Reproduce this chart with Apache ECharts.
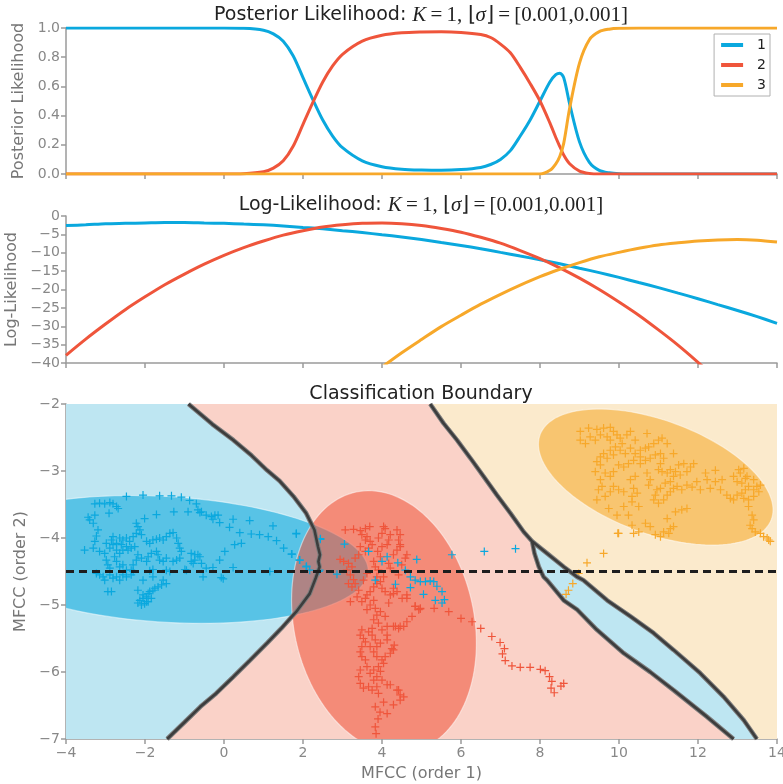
<!DOCTYPE html>
<html><head><meta charset="utf-8">
<script src="https://cdn.jsdelivr.net/npm/echarts@6/dist/echarts.min.js"></script>
<style>html,body{margin:0;padding:0;background:#fff}#c{width:783px;height:784px}</style>
</head><body><div id="c"></div>
<script>
// ---------- shared x range ----------
const xRange = [-4, 14];
const seriesNames = ['1', '2', '3'];

// ---------- top panel: posterior likelihood ----------
const postX = [-4,-2,0,0.5,1,1.25,1.5,1.75,2,2.25,2.5,2.75,3,3.5,4,4.5,5,5.5,6,6.5,6.75,7,7.25,7.5,7.75,8,8.25,8.4,8.5,8.6,8.75,9,9.25,9.5,9.75,10,10.5,12,14];
const post1 = [1,1,1,0.998,0.985,0.96,0.91,0.81,0.66,0.51,0.37,0.26,0.18,0.09,0.05,0.033,0.027,0.025,0.03,0.045,0.065,0.1,0.16,0.26,0.37,0.5,0.63,0.68,0.69,0.66,0.48,0.22,0.08,0.025,0.008,0.002,0,0,0];
const post2 = [0,0,0,0.002,0.015,0.04,0.09,0.19,0.34,0.49,0.63,0.74,0.82,0.91,0.95,0.967,0.973,0.975,0.97,0.955,0.935,0.89,0.83,0.73,0.62,0.5,0.35,0.25,0.19,0.13,0.07,0.02,0.004,0,0,0,0,0,0];
const post3 = [0,0,0,0,0,0,0,0,0,0,0,0,0,0,0,0,0,0,0,0,0,0,0,0,0,0,0.025,0.07,0.12,0.21,0.45,0.76,0.92,0.975,0.992,0.998,1,1,1];

// ---------- middle panel: log-likelihood ----------
const llX = [-4,-3.5,-3,-2.5,-2,-1.5,-1,-0.5,0,0.5,1,1.5,2,2.5,3,3.5,4,4.5,5,5.5,6,6.5,7,7.5,8,8.5,9,9.5,10,10.5,11,11.5,12,12.5,13,13.5,14];
const ll1 = [-2.6,-2.4,-2.1,-2.0,-1.9,-1.8,-1.8,-1.9,-2.0,-2.2,-2.4,-2.7,-3.1,-3.5,-4.0,-4.5,-5.1,-5.7,-6.4,-7.2,-8.0,-8.9,-9.9,-10.9,-11.9,-13.0,-14.2,-15.4,-16.7,-18.1,-19.5,-21.0,-22.5,-24.1,-25.7,-27.4,-29.2];
const ll2 = [-37.9,-33.5,-29.4,-25.5,-22.0,-18.7,-15.8,-13.1,-10.7,-8.6,-6.8,-5.2,-4.0,-3.0,-2.4,-2.0,-1.9,-2.1,-2.6,-3.4,-4.4,-5.8,-7.4,-9.4,-11.6,-14.1,-16.9,-20.0,-23.4,-27.0,-31.0,-35.2,-39.8,-44.6,null,null,null];
const ll3 = [null,null,null,null,null,null,null,null,null,null,null,null,null,null,null,null,-41.1,-37.2,-33.6,-30.1,-27.0,-24.0,-21.3,-18.8,-16.5,-14.5,-12.7,-11.1,-9.9,-8.8,-7.9,-7.3,-6.8,-6.5,-6.4,-6.6,-7.1];

// ---------- bottom panel: classification boundary ----------
const yRangeCls = [-7, -2];
const boundary1 = [[-0.9,-2],[-0.3,-2.3],[0.24,-2.54],[0.7,-2.77],[1.09,-2.99],[1.41,-3.15],[1.76,-3.38],[2.08,-3.63],[2.29,-3.88],[2.38,-4.13],[2.43,-4.25],[2.39,-4.35],[2.42,-4.43],[2.32,-4.6],[2.17,-4.83],[1.83,-5.1],[1.45,-5.35],[1.09,-5.57],[0.65,-5.83],[0.24,-6.07],[-0.2,-6.32],[-0.6,-6.52],[-1.0,-6.75],[-1.44,-7]];
const boundary2 = [[5.22,-2],[5.56,-2.29],[5.9,-2.54],[6.24,-2.81],[6.57,-3.08],[6.91,-3.36],[7.25,-3.63],[7.59,-3.91],[7.8,-4.05]];
const stripLeft = [[7.8,-4.05],[7.86,-4.23],[7.97,-4.43],[8.09,-4.58],[8.18,-4.63],[8.6,-4.93],[8.94,-5.07],[9.44,-5.37],[10.12,-5.72],[10.79,-6.0],[11.38,-6.27],[12.23,-6.67],[12.9,-7.0]];
const stripRight = [[7.8,-4.05],[8.18,-4.23],[8.6,-4.43],[8.94,-4.58],[9.1,-4.63],[9.7,-4.93],[10.29,-5.17],[10.88,-5.42],[11.38,-5.67],[12.06,-6.02],[12.65,-6.37],[13.16,-6.72],[13.49,-7.0]];
// ellipses: centre and two conjugate semi-axis vectors (data units)
const ellipse1 = {c: [-1.45, -4.32], u: [5.1, -0.165], v: [0, 0.94]};
const ellipse2 = {c: [4.05, -5.25], u: [2.34, -0.32], v: [0, 1.93]};
const ellipse3 = {c: [10.93, -3.09], u: [2.97, -0.49], v: [0, 0.889]};
const dashY = -4.5;

const pts1 = [[-2.47,-3.38],[-2.05,-3.36],[-1.63,-3.37],[-1.33,-3.37],[-1.08,-3.39],[-0.87,-3.44],[-0.70,-3.49],[-3.27,-3.49],[-3.15,-3.48],[-3.02,-3.49],[-2.89,-3.47],[-2.81,-3.49],[-2.72,-3.53],[-2.68,-3.56],[-2.91,-3.63],[-3.44,-3.69],[-3.40,-3.73],[-3.27,-3.66],[-1.71,-3.65],[-1.27,-3.61],[-0.91,-3.61],[-0.66,-3.58],[-0.61,-3.62],[-0.57,-3.61],[-0.45,-3.66],[-0.32,-3.68],[-0.23,-3.66],[-0.15,-3.66],[-0.11,-3.77],[-0.28,-3.72],[0.23,-3.72],[0.65,-3.74],[1.24,-3.82],[0.14,-3.84],[0.40,-3.92],[0.69,-3.94],[0.90,-3.95],[1.12,-3.98],[1.33,-4.04],[1.51,-4.15],[1.83,-3.93],[1.71,-4.24],[1.92,-4.33],[2.09,-4.42],[2.17,-4.48],[2.42,-4.48],[2.44,-4.01],
[-3.31,-3.78],[-3.19,-3.88],[-3.23,-3.97],[-3.27,-4.05],[-3.53,-4.18],[-3.31,-4.15],[-3.15,-4.20],[-3.02,-4.23],[-2.98,-4.33],[-2.94,-4.40],[-2.89,-4.45],[-2.81,-3.98],[-2.85,-4.03],[-2.72,-4.08],[-2.64,-4.00],[-2.56,-4.03],[-2.47,-4.00],[-2.39,-4.05],[-2.30,-3.98],[-2.22,-3.93],[-2.18,-3.83],[-2.22,-3.78],[-2.13,-3.88],[-2.09,-3.95],[-2.01,-3.71],[-1.96,-4.05],[-1.88,-4.08],[-1.80,-4.03],[-1.71,-4.02],[-1.63,-4.00],[-1.54,-4.03],[-1.46,-3.98],[-1.37,-3.93],[-1.29,-3.92],[-1.20,-4.00],[-1.16,-4.08],[-1.12,-4.15],[-1.08,-4.20],[-1.12,-4.30],[-1.20,-4.33],[-1.29,-4.35],[-1.46,-4.30],[-1.54,-4.35],[-1.63,-4.33],[-1.67,-4.25],[-1.71,-4.20],[-1.84,-4.23],[-1.92,-4.28],[-1.96,-4.35],[-2.09,-4.30],[-2.18,-4.25],[-2.22,-4.33],[-2.30,-4.40],[-2.35,-4.48],[-2.47,-4.48],[-2.56,-4.40],[-2.64,-4.43],[-2.72,-4.35],[-2.77,-4.28],[-2.64,-4.23],[-2.56,-4.18],[-2.47,-4.13],[-2.43,-4.18],[-2.35,-4.15],[-2.26,-4.13],[-2.72,-4.18],[-2.89,-4.15],[-2.81,-4.10],[-2.60,-4.10],[-2.98,-4.08],
[-0.83,-4.23],[-0.74,-4.25],[-0.66,-4.25],[-0.61,-4.28],[-0.74,-4.33],[-0.78,-4.38],[-0.83,-4.35],[-0.57,-4.38],[-0.45,-4.45],[-0.28,-4.44],[-0.11,-4.33],[0.02,-4.20],[0.27,-4.10],[0.44,-4.08],[0.23,-4.44],[-0.53,-4.58],[-0.02,-4.61],[-0.07,-4.59],[-0.99,-4.47],[-0.95,-4.48],[-1.88,-4.49],[-1.80,-4.47],[-1.46,-4.48],[-1.37,-4.50],
[-3.23,-4.53],[-3.15,-4.55],[-3.06,-4.58],[-3.02,-4.63],[-2.89,-4.55],[-2.81,-4.60],[-2.72,-4.58],[-2.64,-4.63],[-2.56,-4.55],[-2.47,-4.58],[-2.35,-4.55],[-2.30,-4.50],[-2.05,-4.63],[-1.80,-4.58],[-1.54,-4.63],[-1.46,-4.68],[-1.58,-4.70],[-1.67,-4.73],[-1.75,-4.75],[-1.80,-4.78],[-1.88,-4.80],[-1.92,-4.83],[-1.96,-4.88],[-2.05,-4.90],[-2.13,-4.93],[-2.18,-4.97],[-2.09,-5.00],[-2.01,-4.98],[-1.92,-4.95],[-1.84,-4.90],[-1.96,-4.95],[-2.05,-4.85],[-2.18,-4.78],[-2.94,-4.80],[-2.85,-4.80],[1.16,-4.50],
[1.83,-3.94],[2.44,-4.02],[3.05,-4.09],[1.72,-4.24],[1.91,-4.33],[2.08,-4.43],[2.40,-4.50],[2.86,-4.54],[3.66,-4.20],[4.00,-4.35],[4.13,-4.28],[4.40,-4.37],[4.88,-4.32],[4.59,-4.48],[4.72,-4.58],[4.84,-4.63],[4.97,-4.65],[5.10,-4.65],[5.22,-4.64],[5.31,-4.65],[5.39,-4.72],[5.52,-4.80],[4.72,-4.74],[4.34,-4.69],[5.05,-4.84],[5.35,-4.93],[5.52,-4.97],[5.58,-4.92],[5.77,-4.25],[6.59,-4.20],[3.83,-4.63],[7.38,-4.16]];

const pts2 = [[3.07,-3.88],[3.28,-3.87],[3.45,-3.89],[3.58,-3.86],[3.69,-3.83],[3.49,-3.95],[3.62,-3.98],[3.70,-4.05],[3.75,-4.10],[3.66,-4.15],[3.58,-4.20],[3.41,-4.25],[3.32,-4.30],[2.94,-4.32],[3.03,-4.35],[3.15,-4.38],[3.24,-4.43],[3.11,-4.48],[3.20,-4.55],[3.28,-4.62],[3.32,-4.68],[3.15,-4.68],[3.24,-4.73],[3.41,-4.78],[3.37,-4.88],[3.20,-4.95],[3.49,-4.95],[3.58,-4.90],[3.62,-4.85],[3.70,-4.80],[3.79,-4.73],[3.87,-4.68],[3.96,-4.65],[4.04,-4.58],[3.91,-4.48],[3.83,-4.43],[3.79,-4.35],[3.96,-4.28],[3.89,-4.20],[4.00,-4.13],[4.13,-4.10],[4.17,-4.03],[4.21,-3.95],[4.08,-3.86],[4.00,-3.93],[3.91,-4.00],[4.04,-3.83],[4.38,-3.88],[4.46,-3.95],[4.42,-4.03],[4.46,-4.10],[4.38,-4.18],[4.29,-4.25],[4.17,-4.38],[4.21,-4.45],[4.42,-4.55],[4.50,-4.40],[4.59,-4.30],[4.63,-4.25],[4.46,-4.13],
[3.70,-5.00],[3.62,-5.07],[3.83,-5.05],[3.96,-5.10],[4.08,-5.17],[3.87,-5.15],[3.79,-5.22],[3.91,-5.27],[3.75,-5.35],[3.66,-5.40],[3.49,-5.37],[3.45,-5.45],[3.53,-5.50],[3.58,-5.55],[3.49,-5.62],[3.45,-5.70],[3.49,-5.77],[3.58,-5.82],[3.62,-5.92],[3.45,-5.97],[3.41,-6.07],[3.45,-6.17],[3.53,-6.24],[3.66,-6.22],[3.75,-6.27],[3.79,-6.12],[3.87,-6.07],[3.70,-6.02],[3.79,-5.97],[3.91,-5.92],[4.00,-5.82],[3.87,-5.77],[3.79,-5.70],[3.87,-5.62],[3.96,-5.57],[3.83,-5.52],[3.70,-5.62],[3.75,-5.45],[4.00,-5.37],[4.13,-5.32],[4.29,-5.32],[4.42,-5.35],[4.55,-5.32],[4.63,-5.25],[4.76,-5.17],[4.93,-5.07],[4.84,-5.02],[4.63,-4.90],[4.21,-4.85],[4.08,-4.80],[4.00,-4.75],[4.17,-4.97],[4.13,-5.45],[4.25,-5.65],[4.21,-5.72],[4.08,-5.77],[4.04,-5.87],[3.96,-5.99],[4.00,-6.12],[3.87,-6.22],[3.91,-6.32],[4.13,-6.19],[4.21,-6.19],[4.38,-6.27],[4.46,-6.34],[4.55,-6.37],[4.97,-5.05],[5.32,-5.05],[5.69,-5.10],[6.00,-5.20],[6.28,-5.25],[6.50,-5.35],[4.13,-5.52],[4.31,-5.60],[3.62,-4.53],[3.53,-4.63],[3.79,-4.93],[4.29,-4.75],[4.38,-4.80],[3.45,-4.13],[3.58,-4.03],[3.87,-4.58],
[4.29,-4.83],[4.51,-4.90],[4.63,-4.85],[4.84,-5.02],[4.97,-5.06],[6.78,-5.47],[6.99,-5.56],[7.10,-5.65],[7.05,-5.73],[7.12,-5.83],[7.29,-5.91],[7.50,-5.93],[7.75,-5.93],[8.01,-5.96],[8.13,-5.98],[8.24,-6.07],[8.30,-6.14],[8.28,-6.24],[8.36,-6.31],[8.53,-6.21],[8.60,-6.17],
[4.42,-6.27],[4.46,-6.42],[4.29,-6.49],[4.29,-5.67],[4.46,-5.32],[4.34,-5.32],[3.83,-6.52],[3.83,-6.82],[3.85,-6.92],[4.13,-6.62],[4.04,-6.45],[3.90,-6.70],[3.95,-6.60]];

const pts3 = [[9.02,-2.41],[9.23,-2.36],[9.44,-2.38],[9.61,-2.36],[9.78,-2.35],[9.86,-2.41],[9.02,-2.54],[9.15,-2.59],[9.27,-2.49],[9.40,-2.54],[9.53,-2.46],[9.70,-2.49],[9.78,-2.54],[9.95,-2.46],[10.03,-2.51],[10.20,-2.46],[10.29,-2.41],[10.41,-2.54],[10.08,-2.59],[9.91,-2.64],[9.78,-2.69],[9.61,-2.74],[9.53,-2.79],[9.70,-2.81],[9.86,-2.76],[10.03,-2.69],[10.16,-2.74],[10.29,-2.66],[10.41,-2.74],[10.54,-2.69],[10.67,-2.66],[10.75,-2.64],[10.88,-2.59],[11.00,-2.54],[11.09,-2.51],[11.22,-2.59],[11.38,-2.74],[10.71,-2.44],[10.54,-2.79],[10.37,-2.84],[10.24,-2.89],[10.12,-2.94],[9.99,-2.91],[9.86,-3.01],[9.78,-3.08],[9.65,-3.03],[9.53,-2.91],[9.40,-3.01],[9.44,-2.86],[10.54,-2.89],[10.67,-2.84],[10.79,-2.81],[10.92,-2.76],[11.05,-2.74],[11.13,-2.81],[11.05,-2.89],[11.00,-2.98],[11.09,-3.01],[11.22,-3.03],[11.30,-2.98],[11.43,-3.01],[11.51,-2.91],[11.64,-2.89],[11.81,-2.94],[11.89,-2.89],[11.72,-3.01],[11.55,-3.06],[11.38,-3.08],[11.30,-3.16],[11.17,-3.18],[11.05,-3.26],[10.96,-3.28],[10.92,-3.36],[10.88,-3.43],[11.00,-3.48],[11.13,-3.43],[11.22,-3.36],[11.30,-3.31],[11.38,-3.26],[11.47,-3.23],[11.59,-3.28],[11.72,-3.21],[11.85,-3.24],[11.97,-3.16],[12.06,-3.28],[12.19,-3.03],[12.23,-3.13],[12.31,-3.26],[12.44,-3.16],[12.44,-2.99],[12.61,-3.13],[12.57,-3.28],[12.73,-3.36],[12.82,-3.41],[12.90,-3.43],[12.99,-3.36],[13.11,-3.33],[13.20,-3.28],[13.28,-3.23],[13.41,-3.28],[13.49,-3.23],[13.58,-3.21],[13.54,-3.31],[13.41,-3.38],[13.28,-3.43],[13.16,-3.41],[13.03,-2.98],[13.07,-3.03],[13.16,-2.96],[13.24,-3.08],[13.41,-3.13],[12.90,-3.08],[12.99,-3.16],[13.11,-3.18],[13.20,-3.11],[13.28,-3.53],[13.37,-3.66],[13.41,-3.73],[13.32,-3.81],[13.37,-3.86],[13.45,-3.91],[13.58,-3.93],[13.66,-3.98],[13.75,-4.00],[13.83,-4.05],[13.79,-4.03],[9.53,-3.13],[9.57,-3.23],[9.48,-3.28],[9.65,-3.38],[9.44,-3.43],[9.74,-3.56],[9.95,-3.66],[10.12,-3.53],[10.33,-3.46],[10.50,-3.53],[10.24,-3.66],[10.33,-3.81],[9.99,-3.93],[10.37,-3.93],[10.50,-3.91],[10.67,-3.78],[10.79,-3.83],[10.92,-3.95],[11.05,-3.98],[11.13,-3.91],[11.26,-3.93],[11.30,-3.86],[11.38,-3.83],[11.22,-3.71],[11.43,-3.61],[11.59,-3.58],[11.72,-3.56],[10.37,-3.26],[10.46,-3.33],[10.33,-3.38],[10.12,-3.31],[9.99,-3.28],[9.86,-3.23],[9.78,-3.31],[10.71,-3.03],[10.79,-3.13],[10.75,-3.21],[10.29,-3.13],[10.41,-3.08],[9.61,-4.23],[9.97,-3.93],[9.19,-4.37],[8.98,-4.53],[8.83,-4.68],[8.72,-4.78],[8.66,-4.84]];

// ---------- styles ----------
const C = ['#0aa8de', '#ef553b', '#f7a82a'];
const BG = ['#bee6f2', '#fad2c8', '#fbeacc'];
const AX = '#9a9a9a';
const minus = v => String(v).replace('-', '\u2212');
const zip = (xs, ys) => xs.map((x, i) => [x, ys[i]]);

function ellipsePts(e) {
  const pts = [];
  for (let k = 0; k <= 144; k++) {
    const t = 2 * Math.PI * k / 144;
    pts.push([e.c[0] + e.u[0] * Math.cos(t) + e.v[0] * Math.sin(t),
              e.c[1] + e.u[1] * Math.cos(t) + e.v[1] * Math.sin(t)]);
  }
  return pts;
}

const [xmin, xmax] = xRange, [ymin, ymax] = yRangeCls;
const regions = [
  {pts: [[xmin, ymax], [xmax, ymax], [xmax, ymin], [xmin, ymin]], fill: BG[1]},
  {pts: [[xmin, ymax]].concat(boundary1, [[xmin, ymin]]), fill: BG[0]},
  {pts: boundary2.concat(stripRight.slice(1), [[xmax, ymin], [xmax, ymax]]), fill: BG[2]},
  {pts: stripLeft.concat(stripRight.slice().reverse()), fill: BG[0]}
];
const ellipses = [
  {pts: ellipsePts(ellipse1), fill: C[0]},
  {pts: ellipsePts(ellipse2), fill: C[1]},
  {pts: ellipsePts(ellipse3), fill: C[2]}
];

function xAxisCfg(grid, labels) {
  const a = {
    gridIndex: grid, type: 'value', min: xRange[0], max: xRange[1], interval: 2,
    axisLine: {onZero: false, lineStyle: {color: AX, width: 1.5}},
    axisTick: {length: 5, lineStyle: {color: AX, width: 1.5}},
    axisLabel: {show: labels, color: '#888', fontSize: 14, margin: 7, formatter: minus, hideOverlap: false},
    splitLine: {show: false}
  };
  if (labels) {
    a.name = 'MFCC (order 1)'; a.nameLocation = 'middle'; a.nameGap = 27;
    a.nameTextStyle = {color: '#777', fontSize: 16};
  }
  return a;
}
function yAxisCfg(grid, min, max, interval, name, gap, fmt) {
  return {
    gridIndex: grid, type: 'value', min, max, interval,
    name, nameLocation: 'middle', nameGap: gap, nameTextStyle: {color: '#777', fontSize: 16},
    axisLine: {show: true, onZero: false, lineStyle: {color: AX, width: 1.5}},
    axisTick: {show: true, length: 5, lineStyle: {color: AX, width: 1.5}},
    axisLabel: {color: '#888', fontSize: 14, margin: 6, formatter: fmt},
    splitLine: {show: false}
  };
}

const polySeries = (name, list, opacity, stroke) => ({
  name, type: 'custom', xAxisIndex: 2, yAxisIndex: 2, clip: true, silent: true,
  data: list.map(() => [0, -4.5]),
  renderItem: (params, api) => {
    const item = list[params.dataIndex];
    return {
      type: 'polygon',
      shape: {points: item.pts.map(p => api.coord(p))},
      style: {fill: item.fill, opacity: opacity, stroke: stroke || null, lineWidth: stroke ? 1.2 : 0}
    };
  }
});

const lineS = (name, xi, data, color, width, extra) => Object.assign({
  name, type: 'line', xAxisIndex: xi, yAxisIndex: xi, data, showSymbol: false,
  symbol: 'none', silent: true, lineStyle: {color, width}, itemStyle: {color}
}, extra || {});

const plus = 'path://M0,5L10,5M5,0L5,10';
const scatterS = (name, data, color) => ({
  name, type: 'scatter', xAxisIndex: 2, yAxisIndex: 2, data, silent: true,
  symbol: plus, symbolSize: 8,
  itemStyle: {color: color, borderColor: color, borderWidth: 1.2, opacity: 1}
});

const serifM = {fontFamily: 'Liberation Serif', fontSize: 21, color: '#222', fontWeight: 'normal'};
const rich = {
  s: {fontFamily: 'DejaVu Sans', fontSize: 19, color: '#222', fontWeight: 'normal'},
  i: Object.assign({}, serifM, {fontStyle: 'italic'}),
  m: serifM
};
const mathPart = '{i|K}{m|\u2009=\u20091, \u230A}{i|\u03C3}{m|\u230B\u2009=\u2009[0.001,0.001]}';

const gridBase = {left: 66, right: 6, outerBoundsMode: 'none', containLabel: false};
const chart = echarts.init(document.getElementById('c'), null, {renderer: 'canvas'});
chart.setOption({
  animation: false,
  backgroundColor: '#fff',
  textStyle: {fontFamily: 'DejaVu Sans'},
  title: [
    {text: '{s|Posterior Likelihood: }' + mathPart, left: 421, top: 5, textAlign: 'center', padding: 0,
     textStyle: {fontWeight: 'normal', rich}},
    {text: '{s|Log-Likelihood: }' + mathPart, left: 421, top: 195, textAlign: 'center', padding: 0,
     textStyle: {fontWeight: 'normal', rich}},
    {text: 'Classification Boundary', left: 421, top: 385, textAlign: 'center', padding: 0,
     textStyle: {fontWeight: 'normal', fontSize: 19, color: '#222', fontFamily: 'DejaVu Sans'}}
  ],
  legend: {
    data: seriesNames, orient: 'vertical', right: 13, top: 34, selectedMode: false,
    icon: 'rect', itemWidth: 22, itemHeight: 4, itemGap: 4,
    padding: [3, 4, 3, 7], borderColor: '#b0b0b0', borderWidth: 1, backgroundColor: '#fff',
    textStyle: {fontSize: 14, color: '#222', lineHeight: 16, padding: [0, 0, 0, 9]}
  },
  grid: [
    Object.assign({top: 28, height: 146}, gridBase),
    Object.assign({top: 216, height: 147}, gridBase),
    Object.assign({top: 404, height: 335}, gridBase)
  ],
  xAxis: [xAxisCfg(0, false), xAxisCfg(1, false), xAxisCfg(2, true)],
  yAxis: [
    yAxisCfg(0, 0, 1, 0.2, 'Posterior Likelihood', 32, v => v.toFixed(1)),
    yAxisCfg(1, -40, 0, 5, 'Log-Likelihood', 37, minus),
    yAxisCfg(2, -7, -2, 1, 'MFCC (order 2)', 30, minus)
  ],
  series: [
    lineS(seriesNames[0], 0, zip(postX, post1), C[0], 3, {smooth: 0.3}),
    lineS(seriesNames[1], 0, zip(postX, post2), C[1], 3, {smooth: 0.3}),
    lineS(seriesNames[2], 0, zip(postX, post3), C[2], 3, {smooth: 0.3}),
    lineS('LL1', 1, zip(llX, ll1), C[0], 3, {smooth: 0.3}),
    lineS('LL2', 1, zip(llX, ll2), C[1], 3, {smooth: 0.3}),
    lineS('LL3', 1, zip(llX, ll3), C[2], 3, {smooth: 0.3}),
    polySeries('regions', regions, 1),
    polySeries('ellipses', ellipses, 0.57, 'rgba(255,255,255,0.85)'),
    lineS('b1o', 2, boundary1, '#7d7d7d', 4.6),
    lineS('b2o', 2, boundary2, '#7d7d7d', 4.6),
    lineS('b3o', 2, stripLeft, '#7d7d7d', 4.6),
    lineS('b4o', 2, stripRight, '#7d7d7d', 4.6),
    lineS('b1', 2, boundary1, '#3d3d3d', 2.6),
    lineS('b2', 2, boundary2, '#3d3d3d', 2.6),
    lineS('b3', 2, stripLeft, '#3d3d3d', 2.6),
    lineS('b4', 2, stripRight, '#3d3d3d', 2.6),
    scatterS('pts2', pts2, C[1]),
    scatterS('pts3', pts3, C[2]),
    scatterS('pts1', pts1, C[0]),
    lineS('dash', 2, [[xRange[0], dashY], [xRange[1], dashY]], '#1e1e1e', 3, {lineStyle: {color: '#1e1e1e', width: 3, type: [8, 5]}})
  ]
});
</script></body></html>
